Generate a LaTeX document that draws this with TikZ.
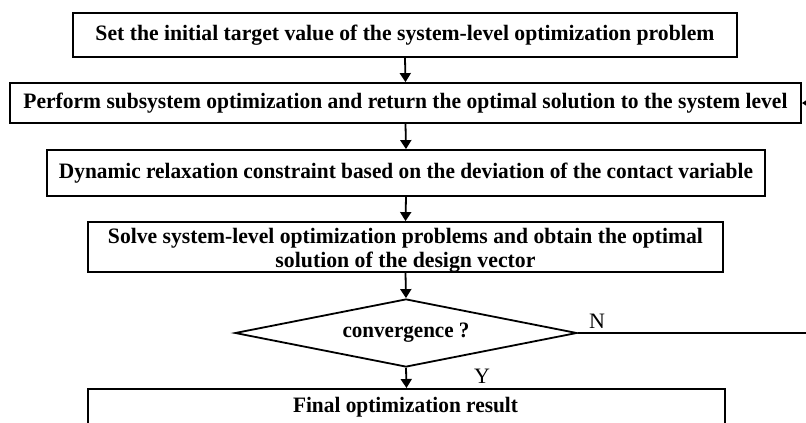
\documentclass[tikz,border=0pt]{standalone}
\usepackage{fontspec}
\setmainfont{Liberation Serif}
\usepackage{graphicx}
\usetikzlibrary{arrows.meta,shapes.geometric}
% stretch a line of text horizontally to a given width, keeping its height
\newcommand\fitw[2]{\resizebox{#1}{\height}{#2}}
\begin{document}
\begin{tikzpicture}[x=1pt,y=-1pt,
  every node/.style={inner sep=0pt},
  boxfont/.style={font=\fontsize{22}{24}\selectfont\bfseries},
  procbox/.style={draw,line width=1.8pt,rectangle,boxfont,align=center},
  decision/.style={draw,line width=1.8pt,diamond,aspect=5,boxfont},
  flow/.style={line width=1.8pt,-{Triangle[width=11pt,length=9pt]}},
  branch/.style={font=\fontsize{22}{24}\selectfont}]
\useasboundingbox (0,0) rectangle (806,423);
\clip (0,0) rectangle (806,423);

% process boxes
\node[procbox,minimum width=664pt,minimum height=44pt] (init) at (405,35)
  {\fitw{619pt}{Set the initial target value of the system-level optimization problem}};
\node[procbox,minimum width=791pt,minimum height=40pt] (sub) at (405.5,103)
  {\fitw{764pt}{Perform subsystem optimization and return the optimal solution to the system level}};
\node[procbox,minimum width=718pt,minimum height=46pt] (relax) at (406,173)
  {\fitw{694pt}{Dynamic relaxation constraint based on the deviation of the contact variable}};
\node[procbox,minimum width=635pt,minimum height=50pt] (solve) at (405.5,247) {};
\node[boxfont,align=center] (solvetxt) at (405.5,250)
  {\fitw{595pt}{Solve system-level optimization problems and obtain the optimal}\\
   \fitw{260pt}{solution of the design vector}};

% convergence test
\node[decision,minimum width=342pt,minimum height=68pt] (conv) at (406,333)
  {\fitw{127pt}{convergence ?}};

% final result box (runs past the lower edge)
\node[procbox,minimum width=637pt,minimum height=64pt,anchor=north] (final) at (406.5,388) {};
\node[boxfont] (finaltxt) at (405.5,407)
  {\fitw{225pt}{Final optimization result}};

% main flow
\draw[flow] (init.south) -- (sub.north);
\draw[flow] (sub.south) -- (relax.north);
\draw[flow] (relax.south) -- (solve.north);
\draw[flow] (solve.south) -- (conv.north);
\draw[flow] (conv.south) -- (final.north);

% loop back when not converged
\coordinate (loopdown) at (816,333);
\coordinate (loopup) at (816,103);
\draw[flow] (conv.east) -- (loopdown) -- (loopup) -- (sub.east);

% branch labels
\node[branch] (nlab) at (597,321) {N};
\node[branch] (ylab) at (482,376) {Y};
\end{tikzpicture}
\end{document}
